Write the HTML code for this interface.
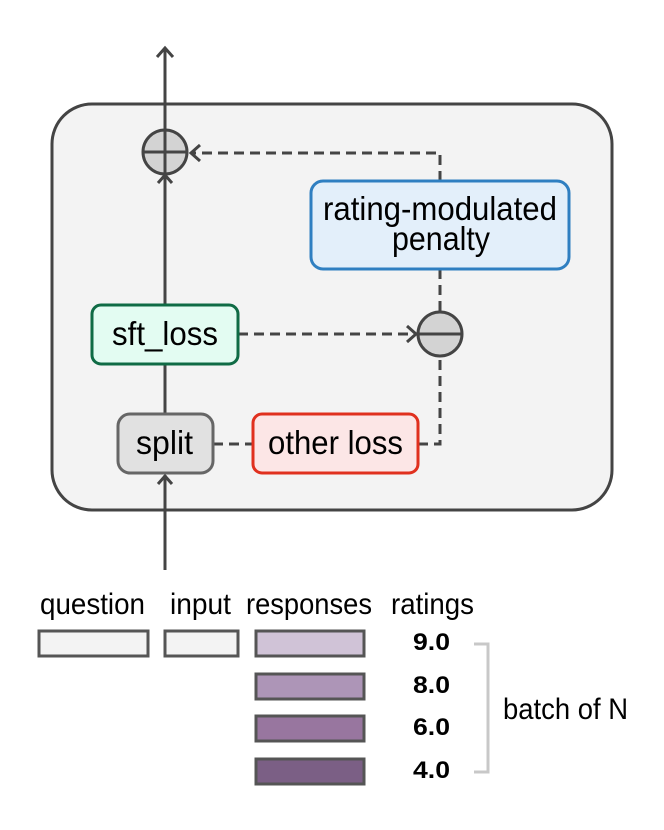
<!DOCTYPE html>
<html><head><meta charset="utf-8"><style>
html,body{margin:0;padding:0;background:#fff;}
svg{display:block}
text{font-family:"Liberation Sans",sans-serif;fill:#000}
</style></head><body>
<svg width="664" height="830" viewBox="0 0 664 830" xmlns="http://www.w3.org/2000/svg">
<rect x="52" y="104" width="560" height="406" rx="40" fill="#f3f3f3" stroke="#444" stroke-width="3"/>
<g stroke="#444" stroke-width="3" fill="none" stroke-dasharray="10,6">
<path d="M440 181 V153 H192"/>
<path d="M440 269 V311"/>
<path d="M238 334 H414"/>
<path d="M213 444 H253"/>
<path d="M418 444 H440 V357"/>
</g>
<g stroke="#444" stroke-width="3" fill="none">
<path d="M200 145 L191 153 L200 161"/>
<path d="M407 326 L416 334 L407 342"/>
</g>
<g stroke="#444" stroke-width="3" fill="none">
<path d="M165 570 V475"/>
<path d="M158 484 L165 476 L172 484"/>
<path d="M165 414 V364"/>
<path d="M165 305 V175"/>
<path d="M158 183 L165 175 L172 183"/>
<path d="M165 129 V48"/>
<path d="M157 57 L165 48 L173 57"/>
</g>
<circle cx="165" cy="152" r="22" fill="#d3d3d3" stroke="#444" stroke-width="3"/>
<path d="M143 152 H187 M165 130 V174" stroke="#444" stroke-width="3"/>
<circle cx="440" cy="334" r="22" fill="#d3d3d3" stroke="#444" stroke-width="3"/>
<path d="M418 334 H462" stroke="#444" stroke-width="3"/>
<rect x="311" y="181" width="258" height="88" rx="12" fill="#e3effa" stroke="#2f7fc1" stroke-width="3"/>
<text x="323" y="220" font-size="33" textLength="234" lengthAdjust="spacingAndGlyphs">rating-modulated</text>
<text x="392" y="250" font-size="33" textLength="98" lengthAdjust="spacingAndGlyphs">penalty</text>
<rect x="92" y="305" width="146" height="59" rx="9" fill="#e3fcf2" stroke="#0f6b45" stroke-width="3"/>
<text x="112" y="345" font-size="33" textLength="106" lengthAdjust="spacingAndGlyphs">sft_loss</text>
<rect x="118" y="414" width="95" height="59" rx="12" fill="#e1e1e1" stroke="#666" stroke-width="3"/>
<text x="136" y="454" font-size="33" textLength="57" lengthAdjust="spacingAndGlyphs">split</text>
<rect x="253" y="414" width="165" height="59" rx="9" fill="#fce6e6" stroke="#e0301e" stroke-width="3"/>
<text x="268" y="454" font-size="33" textLength="135" lengthAdjust="spacingAndGlyphs">other loss</text>
<text x="40" y="614" font-size="30" textLength="105" lengthAdjust="spacingAndGlyphs">question</text>
<text x="170" y="614" font-size="30" textLength="61" lengthAdjust="spacingAndGlyphs">input</text>
<text x="246" y="614" font-size="30" textLength="126" lengthAdjust="spacingAndGlyphs">responses</text>
<text x="391" y="614" font-size="30" textLength="83" lengthAdjust="spacingAndGlyphs">ratings</text>
<g stroke="#555" stroke-width="3">
<rect x="39" y="631" width="109" height="25" fill="#f3f3f3"/>
<rect x="165" y="631" width="73" height="25" fill="#f3f3f3"/>
<rect x="256" y="631" width="108" height="25" fill="#d0c3d7"/>
<rect x="256" y="674" width="108" height="25" fill="#ad95b7"/>
<rect x="256" y="716" width="108" height="25" fill="#98769f"/>
<rect x="256" y="759" width="108" height="25" fill="#7b5f85"/>
</g>
<g font-size="24" font-weight="bold">
<text x="413" y="650" textLength="37" lengthAdjust="spacingAndGlyphs">9.0</text>
<text x="413" y="693" textLength="37" lengthAdjust="spacingAndGlyphs">8.0</text>
<text x="413" y="735" textLength="37" lengthAdjust="spacingAndGlyphs">6.0</text>
<text x="413" y="778" textLength="37" lengthAdjust="spacingAndGlyphs">4.0</text>
</g>
<path d="M474 644 H488 V772 H474" stroke="#c8c8c8" stroke-width="3" fill="none"/>
<text x="503" y="719" font-size="30" textLength="125" lengthAdjust="spacingAndGlyphs">batch of N</text>
</svg>
</body></html>
